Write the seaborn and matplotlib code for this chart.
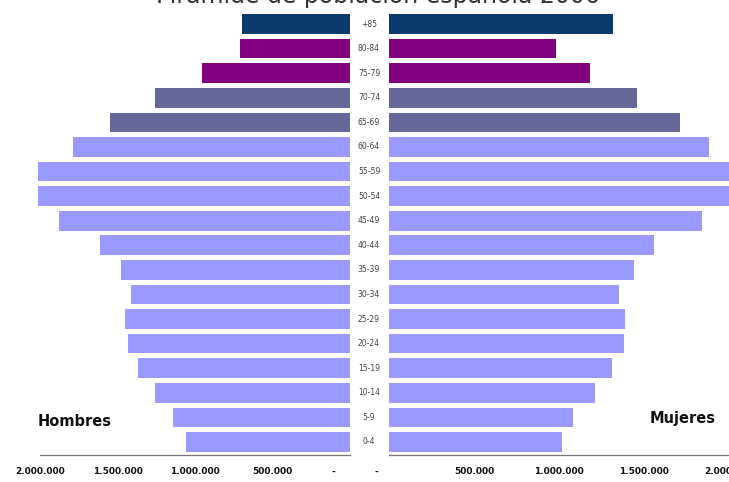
import matplotlib
matplotlib.use("Agg")
import matplotlib.pyplot as plt
import matplotlib.transforms as mtransforms
import seaborn as sns
import pandas as pd

# ---- data ----
ages = ["+85", "80-84", "75-79", "70-74", "65-69", "60-64", "55-59", "50-54", "45-49",
        "40-44", "35-39", "30-34", "25-29", "20-24", "15-19", "10-14", "5-9", "0-4"]
hombres = [700000, 710000, 955000, 1260000, 1550000, 1790000, 2010000, 2010000, 1880000,
           1610000, 1480000, 1410000, 1450000, 1430000, 1370000, 1260000, 1140000, 1060000]
mujeres = [1320000, 980000, 1180000, 1460000, 1710000, 1880000, 2060000, 2060000, 1840000,
           1560000, 1440000, 1350000, 1390000, 1380000, 1310000, 1210000, 1080000, 1020000]
colores = ["#0b3a6e", "#800080", "#800080", "#666699", "#666699"] + ["#9999ff"] * 13
tick_vals = [0, 500000, 1000000, 1500000, 2000000]
tick_left = ["-          ", "500.000", "1.000.000", "1.500.000", "2.000.000"]
tick_right = ["-        ", "500.000", "1.000.000", "1.500.000", "2.000.000"]
titulo = "Pirámide de población española 2006"

sns.set_style("white")
plt.rcParams["font.family"] = ["DejaVu Sans"]

W, H = 729, 482
fig = plt.figure(figsize=(W / 100, H / 100), dpi=100)

bottom = (H - 455) / H
top = (H - 12) / H
axL = fig.add_axes([30 / W, bottom, 320 / W, top - bottom])
axR = fig.add_axes([389 / W, bottom, 340 / W, top - bottom])

df = pd.DataFrame({"edad": ages, "hombres": hombres, "mujeres": mujeres})
pal = dict(zip(ages, colores))

sns.barplot(data=df, y="edad", x="hombres", hue="edad", palette=pal, order=ages,
            hue_order=ages, dodge=False, legend=False, width=0.8, ax=axL,
            saturation=1, edgecolor="none")
sns.barplot(data=df, y="edad", x="mujeres", hue="edad", palette=pal, order=ages,
            hue_order=ages, dodge=False, legend=False, width=0.8, ax=axR,
            saturation=1, edgecolor="none")

left_max = 2000000 * 320 / 310
axL.set_xlim(left_max, 0)
axR.set_xlim(0, 2000000)
for ax, labs in ((axL, tick_left), (axR, tick_right)):
    ax.set_ylim(17.53, -0.49)
    ax.set_xlabel("")
    ax.set_ylabel("")
    ax.set_yticks([])
    ax.set_xticks(tick_vals)
    ax.set_xticklabels(labs, fontsize=6.5, fontweight="bold", color="#111111")
    ax.tick_params(axis="x", direction="out", length=3, width=0.8, color="#777777", pad=6)
    for s in ("top", "left", "right"):
        ax.spines[s].set_visible(False)
    ax.spines["bottom"].set_color("#777777")
    ax.spines["bottom"].set_linewidth(0.9)
    ax.spines["bottom"].set_bounds(0, 2000000)
    ax.patch.set_alpha(0)

# age labels in the middle
trans = mtransforms.blended_transform_factory(fig.transFigure, axL.transData)
for i, a in enumerate(ages):
    fig.text(369 / W, i, a, transform=trans, ha="center", va="center",
             fontsize=5.5, color="#444444")

fig.text(38 / W, 1 - 422 / H, "Hombres", ha="left", va="center",
         fontsize=10.5, fontweight="bold", color="#111111")
fig.text(650 / W, 1 - 418 / H, "Mujeres", ha="left", va="center",
         fontsize=10.5, fontweight="bold", color="#111111")

fig.text(378 / W, 1 - 3 / H, titulo, ha="center", va="baseline",
         fontsize=17, color="#333333")

fig.savefig("out.png", dpi=100, facecolor="white")
